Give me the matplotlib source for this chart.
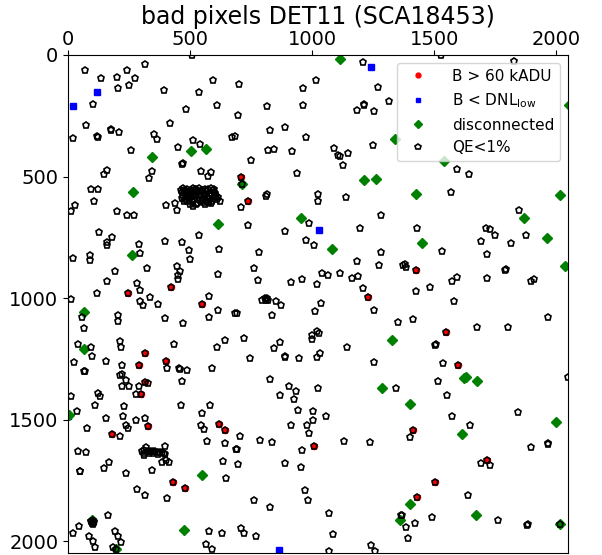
import numpy as np
import matplotlib
matplotlib.use('Agg')
import matplotlib.pyplot as plt

DET_NAME = 'DET11'
SCA_NAME = 'SCA18453'
NPIX = 2048

# hot pixels: background above 60 kADU
hot_x = [707, 737, 247, 423, 550, 314, 292, 401, 317, 298, 182, 328, 617, 644,
         430, 478, 1006, 1227, 1424, 1548, 1599, 1414, 1716, 1503, 1428]
hot_y = [500, 601, 980, 953, 1023, 1226, 1274, 1257, 1343, 1394, 1558, 1524, 1517, 1541,
         1757, 1779, 1607, 997, 886, 1141, 1274, 1543, 1666, 1754, 1818]

# low pixels: background below DNL_low
dnl_x = [119, 22, 1242, 1029, 864, 2]
dnl_y = [154, 210, 49, 718, 2036, 1484]

# disconnected pixels
disc_x = [345, 505, 565, 266, 613, 1115, 714, 1212, 1263, 954, 1340, 1539, 2052, 1425,
          2016, 1868, 262, 64, 66, 1080, 1327, 1285, 1449, 1962, 2037, 1620, 1630, 1674,
          98, 195, 550, 475, 5, 1360, 1402, 1614, 1997, 1399, 1672, 2014]
disc_y = [419, 393, 386, 562, 693, 18, 530, 513, 508, 670, 344, 436, 207, 572,
          577, 669, 823, 1057, 1208, 799, 1171, 1369, 773, 752, 866, 1328, 1323, 1342,
          1911, 2030, 1727, 1952, 1480, 1911, 1436, 1559, 1511, 1848, 1892, 1930]

# low-QE pixels (QE < 1%)
qe_x = [509, 314, 71, 243, 135, 202, 274, 592, 206, 251, 394, 538, 101, 610, 485, 75, 419,
        175, 178, 207, 354, 364, 117, 121, 22, 513, 541, 672, 683, 449, 259, 468, 471, 161,
        147, 345, 332, 543, 586, 575, 96, 123, 106, 27, 12, 400, 440, 448, 201, 242, 272, 622,
        # blob near (530, 580)
        462, 470, 478, 486, 494, 502, 510, 518, 526, 534, 542, 550, 558, 566, 574, 582, 590,
        598, 606, 614, 470, 482, 494, 506, 518, 542, 554, 566, 578, 590, 500, 514, 586, 600,
        476, 490, 562, 530,
        466, 474, 484, 492, 500, 508, 516, 524, 546, 554, 562, 570, 578, 594, 602, 610,
        466, 480, 488, 498, 512, 524, 550, 560, 572, 584, 596, 604, 488, 506, 520, 538,
        1207, 1016, 699, 961, 1268, 816, 961, 1313, 1214, 1214, 1185, 1253, 698, 889, 829,
        976, 819, 844, 919, 1091, 1107, 1113, 1145, 1250, 1128, 748, 937, 1024, 1025, 1137,
        814, 810, 709, 1282, 714,
        1529, 1827, 1593, 1642, 1570, 1846,
        126, 182, 161, 161, 291, 295, 397, 465, 535, 497, 501, 620, 19, 91, 89, 324, 445, 459,
        452, 452, 191, 158, 613, 283, 296, 120, 11, 293, 308, 337, 369, 579, 614, 579, 685,
        57, 206, 206, 397, 470, 64, 40, 93, 100, 25, 213, 218, 154, 221, 434, 644, 609, 407,
        453, 459, 487, 591, 66, 71, 221, 212, 239, 329, 465, 222, 250, 289,
        737, 988, 890, 1195, 973, 1009, 782, 1281, 1184, 1272, 1371, 763, 780, 1042, 1065,
        1115, 1162, 1186, 915, 958, 1020, 1207, 808, 816, 812, 820, 796, 851, 874, 1036, 1013,
        1255, 692, 837, 1352, 1018, 1001, 1028, 1001, 721, 870, 842, 1141, 1031, 1020, 887,
        889, 945, 744, 1252, 826, 905, 1023,
        1428, 1711, 1728, 1749, 1876, 1690, 1814, 1532, 1716, 1379, 1383, 1791, 1793, 1595,
        1571, 1717, 1896, 1910, 1481, 1424, 1581, 1413, 1966, 1675, 1801, 1505, 1507, 1535,
        1515, 2046,
        280, 123, 130, 11, 112, 229, 38, 224, 157, 277, 317, 236, 247, 76, 214, 463, 581, 550,
        543, 558, 571, 642, 687, 42, 74, 49, 51, 168, 147, 239, 345,
        # streak near (350, 1630)
        318, 397, 313, 305, 313, 322, 331, 340, 349, 358, 367, 376, 385, 394, 399, 312, 330,
        350, 370,
        386, 400, 414, 636, 648, 281, 317, 405, 164, 45, 19, 87, 104, 112, 194, 206, 216, 183,
        579, 629, 565, 590, 96, 104, 100, 108, 102, 195,
        935, 868, 924, 942, 1002, 1057, 1003, 980, 912, 986, 706, 786, 834, 692, 958, 1132,
        1235, 695, 889, 956, 972, 983, 762, 829, 1070, 1364, 709, 719, 769, 1084, 1240, 1068,
        1259, 1342,
        1552, 1842, 1574, 1648, 1401, 1898, 1966, 1968, 1693, 1727, 1637, 1368, 1423, 1386,
        1492, 1760, 1881, 1883, 1393, 2014]
qe_y = [0, 37, 61, 60, 94, 90, 96, 104, 134, 123, 142, 152, 201, 206, 223, 287, 281,
        310, 306, 315, 324, 344, 332, 339, 340, 348, 367, 337, 333, 378, 389, 448, 446, 472,
        491, 479, 506, 479, 483, 496, 550, 550, 599, 617, 640, 617, 607, 639, 642, 657, 658, 599,
        556, 548, 560, 552, 566, 556, 548, 562, 572, 558, 566, 554, 568, 560, 552, 566, 574,
        562, 578, 584, 576, 584, 590, 598, 592, 598, 606, 596, 590, 600, 612, 620, 548, 552,
        600, 572, 580, 608,
        564, 556, 570, 578, 586, 568, 576, 552, 560, 592, 552, 584, 606, 556, 570, 592,
        590, 594, 600, 580, 606, 614, 596, 612, 604, 610, 584, 566, 560, 564, 550, 546,
        29, 102, 120, 134, 131, 210, 206, 190, 202, 207, 228, 232, 248, 295, 308,
        337, 392, 386, 396, 384, 410, 416, 403, 369, 452, 431, 487, 572, 599, 583,
        573, 581, 624, 659, 530,
        0, 23, 468, 490, 564, 639,
        726, 750, 767, 780, 778, 815, 765, 771, 740, 801, 840, 796, 833, 822, 842, 874, 866, 887,
        904, 920, 890, 928, 902, 938, 968, 978, 1003, 1010, 1028, 994, 1025, 991, 1050, 1077, 1063,
        1079, 1070, 1095, 1080, 1103, 1124, 1190, 1201, 1238, 1261, 1177, 1200, 1259, 1274, 1189,
        1174, 1200, 1287, 1289, 1293, 1297, 1287, 1300, 1300, 1312, 1317, 1335, 1349, 1341, 1362,
        1362, 1362,
        698, 692, 724, 711, 760, 781, 810, 812, 848, 864, 863, 875, 924, 898, 905,
        898, 919, 907, 932, 922, 941, 957, 998, 1000, 1008, 1006, 1006, 1013, 1029, 1020, 1053,
        1048, 1062, 1070, 1096, 1133, 1152, 1143, 1166, 1164, 1180, 1205, 1199, 1226, 1244, 1240,
        1237, 1245, 1246, 1263, 1332, 1360, 1371,
        713, 710, 714, 740, 740, 765, 774, 805, 818, 861, 871, 886, 882, 915,
        931, 916, 928, 923, 956, 971, 1013, 1085, 1079, 1119, 1118, 1192, 1188, 1266,
        1339, 1324,
        1394, 1388, 1403, 1403, 1439, 1442, 1462, 1483, 1491, 1499, 1492, 1522, 1535, 1533, 1566,
        1439, 1438, 1472, 1520, 1540, 1586, 1596, 1622, 1627, 1634, 1712, 1710, 1674, 1700, 1720,
        1708,
        1611, 1606, 1645, 1628, 1626, 1627, 1628, 1627, 1629, 1630, 1631, 1632, 1634, 1636, 1640,
        1636, 1637, 1638, 1640,
        1675, 1664, 1674, 1671, 1739, 1784, 1808, 1821, 1891, 1937, 1965, 1978, 2000, 2025, 1958,
        1977, 2003, 2023, 1959, 1965, 2011, 2033, 1916, 1914, 1924, 1922, 1928, 2030,
        1383, 1397, 1414, 1461, 1466, 1483, 1503, 1522, 1521, 1556, 1567, 1582, 1593, 1621, 1626,
        1589, 1593, 1681, 1679, 1696, 1787, 1831, 1829, 1859, 1884, 1891, 1945, 1967, 1980, 1969,
        2015, 2040, 2041, 1368,
        1397, 1470, 1485, 1521, 1570, 1611, 1600, 1597, 1677, 1686, 1808, 1891, 1926, 1943,
        1900, 1911, 1932, 1929, 1988, 1930]

fig = plt.figure(figsize=(6.02, 5.55), dpi=100)
ax = fig.add_axes([68 / 602, 2 / 555, 500 / 602, 498 / 555])

ax.plot(hot_x, hot_y, 'o', color='red', ms=4.4, ls='none', label='B > 60 kADU')
ax.plot(dnl_x, dnl_y, 's', color='blue', ms=4.3, ls='none', label=r'B < DNL$_{\rm low}$')
ax.plot(disc_x, disc_y, 'D', color='green', ms=5, ls='none', label='disconnected')
ax.plot(qe_x, qe_y, 'p', mfc='none', mec='black', mew=1.2, ms=4.8, ls='none',
        label='QE<1%')
# hot pixels also sit below the QE cut
ax.plot(hot_x, hot_y, 'p', mfc='none', mec='black', mew=1.2, ms=4.8, ls='none')

ax.set_xlim(0, NPIX)
ax.set_ylim(NPIX, 0)
ax.xaxis.tick_top()
ax.set_xticks([0, 500, 1000, 1500, 2000])
ax.set_yticks([0, 500, 1000, 1500, 2000])
ax.tick_params(labelsize=14)
ax.tick_params(axis='x', pad=1)
ax.set_title(f'bad pixels {DET_NAME} ({SCA_NAME})', fontsize=17, y=1.062, pad=0)
ax.legend(loc='upper right', fontsize=11, markerscale=0.8, handletextpad=1.2)

fig.savefig('out.png', dpi=100)
